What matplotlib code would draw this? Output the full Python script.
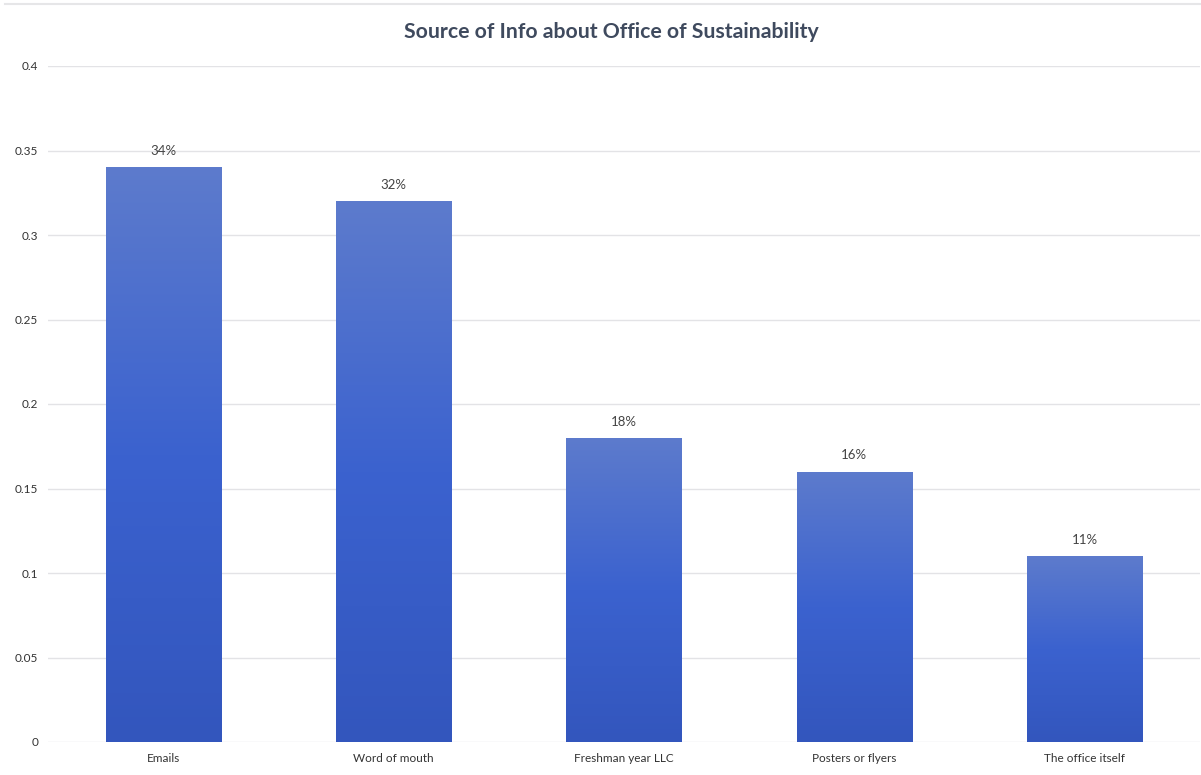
import matplotlib
import matplotlib.pyplot as plt
import numpy as np
from matplotlib.colors import LinearSegmentedColormap
from matplotlib.lines import Line2D

matplotlib.use('Agg')

categories = ['Emails', 'Word of mouth', 'Freshman year LLC', 'Posters or flyers', 'The office itself']
shares = [0.34, 0.32, 0.18, 0.16, 0.11]
labels = ['34%', '32%', '18%', '16%', '11%']
yticks = [0, 0.05, 0.1, 0.15, 0.2, 0.25, 0.3, 0.35, 0.4]
ytick_labels = ['0', '0.05', '0.1', '0.15', '0.2', '0.25', '0.3', '0.35', '0.4']

plt.rcParams['font.family'] = ['Lato', 'DejaVu Sans']

fig = plt.figure(figsize=(12.01, 7.75), dpi=100)
ax = fig.add_axes([48 / 1201, 1 - 742 / 775, 1152 / 1201, 676 / 775])

# gradient per bar: light at top, deeper blue lower down
cmap = LinearSegmentedColormap.from_list('bar', ['#3356bd', '#3b62cf', '#5d7bcc'])
grad = np.linspace(0, 1, 256).reshape(-1, 1)

x = np.arange(len(categories))
bars = ax.bar(x, shares, width=0.5, color='none', zorder=2)
for b in bars:
    x0, y0 = b.get_x(), b.get_y()
    w, h = b.get_width(), b.get_height()
    im = ax.imshow(grad, extent=[x0, x0 + w, y0, y0 + h], origin='lower',
                   cmap=cmap, aspect='auto', zorder=2)
    im.set_clip_path(b)

for xi, v, lab in zip(x, shares, labels):
    ax.text(xi, v + 0.006, lab, ha='center', va='bottom', fontsize=9.5, color='#444444')

ax.set_xlim(-0.5, len(categories) - 0.5)
ax.set_ylim(0, 0.4)
ax.set_yticks(yticks)
ax.set_yticklabels(ytick_labels)
ax.set_xticks(x)
ax.set_xticklabels(categories)
ax.tick_params(axis='both', length=0, labelsize=8.5, colors='#333333')
ax.tick_params(axis='y', pad=7)
ax.tick_params(axis='x', pad=8)
ax.grid(axis='y', color='#e3e3e6', linewidth=1, zorder=0)
ax.set_axisbelow(True)
for s in ax.spines.values():
    s.set_visible(False)

fig.text(0.509, 1 - 32 / 775, 'Source of Info about Office of Sustainability',
         ha='center', va='center', fontsize=15.3, fontweight='bold', color='#3f4a5e')
fig.add_artist(Line2D([5 / 1201, 1], [1 - 4 / 775, 1 - 4 / 775], color='#e6e6e8', linewidth=1.5))

fig.savefig('out.png', dpi=100, facecolor='white')
